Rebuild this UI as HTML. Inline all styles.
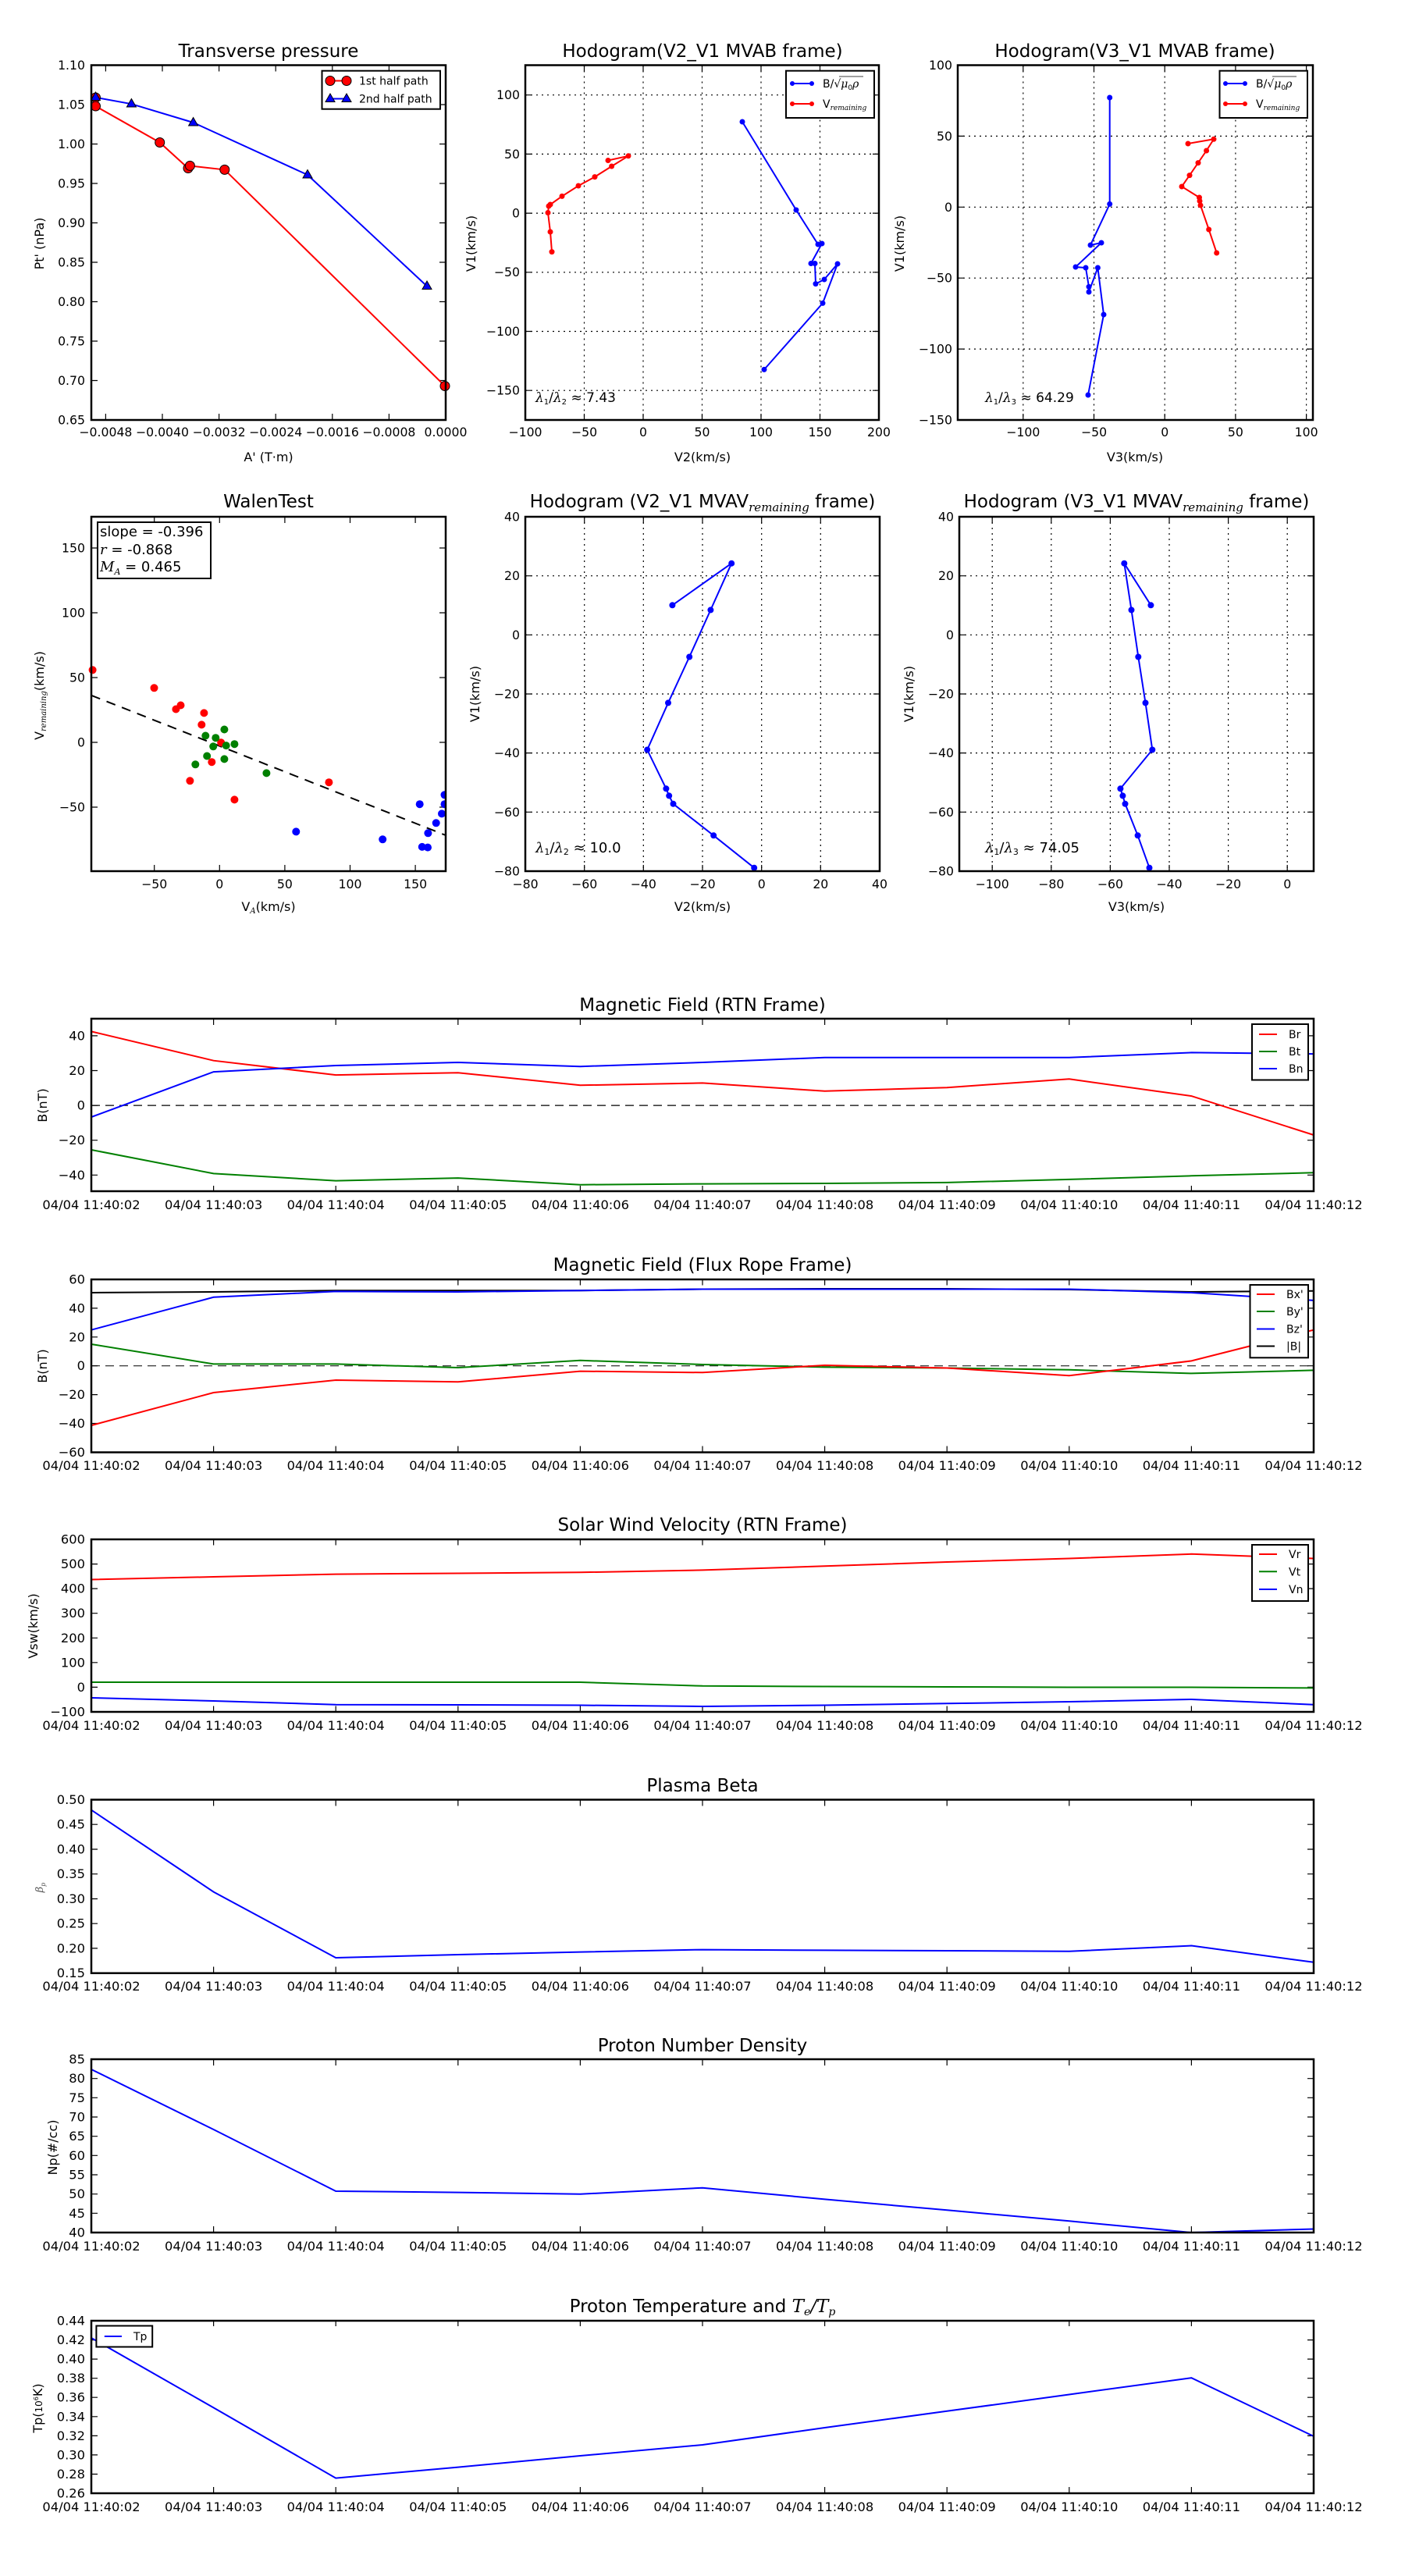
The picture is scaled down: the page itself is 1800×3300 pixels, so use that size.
<!DOCTYPE html>
<html><head><meta charset="utf-8"><style>
html,body{margin:0;padding:0;background:#fff}
svg{display:block}
text{font-family:"DejaVu Sans","Liberation Sans",sans-serif;fill:#000}
.t{font-size:23px;text-anchor:middle}
.k{font-size:15.7px}
.km{font-size:15.7px;text-anchor:middle}
.kr{font-size:15.7px;text-anchor:end}
.d{font-size:16.3px;text-anchor:middle}
.dr{font-size:16.3px;text-anchor:end}
.l{font-size:16px;text-anchor:middle}
.lg{font-size:14px}
.fr{fill:none;stroke:#000;stroke-width:2.5}
.tk{fill:none;stroke:#000;stroke-width:1.2}
.gr{fill:none;stroke:#000;stroke-width:1.2;stroke-dasharray:2,5}
.m{font-family:"DejaVu Serif",serif;font-style:italic}
</style></head><body>
<svg width="1800" height="3300" viewBox="0 0 1800 3300" xmlns="http://www.w3.org/2000/svg">
<defs>
<path id="xt" class="tk" d="M273.6 0v8M430.2 0v8M586.8 0v8M743.4 0v8M900 0v8M1056.6 0v8M1213.2 0v8M1369.8 0v8M1526.4 0v8M273.6 222v-8M430.2 222v-8M586.8 222v-8M743.4 222v-8M900 222v-8M1056.6 222v-8M1213.2 222v-8M1369.8 222v-8M1526.4 222v-8"/>
</defs>

<!-- ===== Panel A: Transverse pressure ===== -->
<text class="t" x="344" y="73">Transverse pressure</text>
<path class="tk" d="M135.4 538v-8M208 538v-8M280.6 538v-8M353.2 538v-8M425.8 538v-8M498.4 538v-8M135.4 83.5v8M208 83.5v8M280.6 83.5v8M353.2 83.5v8M425.8 83.5v8M498.4 83.5v8
M117 134h8M117 184.5h8M117 235h8M117 285.5h8M117 336h8M117 386.5h8M117 437h8M117 487.5h8M571 134h-8M571 184.5h-8M571 235h-8M571 285.5h-8M571 336h-8M571 386.5h-8M571 437h-8M571 487.5h-8"/>
<g class="kr">
<text x="109" y="89">1.10</text><text x="109" y="139.5">1.05</text><text x="109" y="190">1.00</text><text x="109" y="240.5">0.95</text><text x="109" y="291">0.90</text><text x="109" y="341.5">0.85</text><text x="109" y="392">0.80</text><text x="109" y="442.5">0.75</text><text x="109" y="493">0.70</text><text x="109" y="543.5">0.65</text>
</g>
<g class="km">
<text x="135.4" y="559">−0.0048</text><text x="208" y="559">−0.0040</text><text x="280.6" y="559">−0.0032</text><text x="353.2" y="559">−0.0024</text><text x="425.8" y="559">−0.0016</text><text x="498.4" y="559">−0.0008</text><text x="571" y="559">0.0000</text>
</g>
<text class="l" x="344" y="591">A' (T·m)</text>
<text class="l" transform="translate(56,312) rotate(-90)">Pt' (nPa)</text>
<polyline fill="none" stroke="#f00" stroke-width="2" points="122.5,125 122.5,136 204.7,182.5 241,215.5 243.4,212.4 287.8,217.4 570,494.5"/>
<polyline fill="none" stroke="#00f" stroke-width="2" points="122.5,124.8 168.4,133.2 247.6,157 394,224 547,366.6"/>
<g fill="#f00" stroke="#000" stroke-width="1">
<circle cx="122.5" cy="125" r="6"/><circle cx="122.5" cy="136" r="6"/><circle cx="204.7" cy="182.5" r="6"/><circle cx="241" cy="215.5" r="6"/><circle cx="243.4" cy="212.4" r="6"/><circle cx="287.8" cy="217.4" r="6"/><circle cx="570" cy="494.5" r="6"/>
</g>
<g fill="#00f" stroke="#000" stroke-width="1">
<path d="M122.5 118l6 10.5h-12z"/><path d="M168.4 126.5l6 10.5h-12z"/><path d="M247.6 150.5l6 10.5h-12z"/><path d="M394 217.5l6 10.5h-12z"/><path d="M547 360l6 10.5h-12z"/>
</g>
<rect class="fr" x="117" y="83.5" width="454" height="454.5"/>
<rect x="412.5" y="90.7" width="151.5" height="49" fill="#fff" stroke="#000" stroke-width="2"/>
<line x1="423" y1="103.5" x2="444" y2="103.5" stroke="#f00" stroke-width="2"/>
<circle cx="423" cy="103.5" r="6" fill="#f00" stroke="#000"/><circle cx="444" cy="103.5" r="6" fill="#f00" stroke="#000"/>
<line x1="423" y1="126.5" x2="444" y2="126.5" stroke="#00f" stroke-width="2"/>
<path d="M423 120l6 10.5h-12zM444 120l6 10.5h-12z" fill="#00f" stroke="#000"/>
<text class="lg" x="460" y="108.5">1st half path</text>
<text class="lg" x="460" y="131.5">2nd half path</text>

<!-- ===== Panel B: Hodogram V2_V1 MVAB ===== -->
<text class="t" x="900" y="73">Hodogram(V2_V1 MVAB frame)</text>
<path class="gr" d="M748.5 83.5V538M824 83.5V538M899.5 83.5V538M975 83.5V538M1050.5 83.5V538M673 121.7H1126M673 197.4H1126M673 273.1H1126M673 348.8H1126M673 424.5H1126M673 500.2H1126"/>
<g class="kr">
<text x="666" y="127">100</text><text x="666" y="203">50</text><text x="666" y="278.5">0</text><text x="666" y="354">−50</text><text x="666" y="430">−100</text><text x="666" y="505.5">−150</text>
</g>
<g class="km">
<text x="673" y="559">−100</text><text x="748.5" y="559">−50</text><text x="824" y="559">0</text><text x="899.5" y="559">50</text><text x="975" y="559">100</text><text x="1050.5" y="559">150</text><text x="1126" y="559">200</text>
</g>
<text class="l" x="900" y="591">V2(km/s)</text>
<text class="l" transform="translate(609,312) rotate(-90)">V1(km/s)</text>
<polyline fill="none" stroke="#00f" stroke-width="2" points="951,156 1020,269 1048,313 1053,312 1039,337.5 1044,337.5 1045,363.6 1056,358 1073,338 1054,388.4 979,473.4"/>
<g fill="#00f"><circle cx="951" cy="156" r="3.5"/><circle cx="1020" cy="269" r="3.5"/><circle cx="1048" cy="313" r="3.5"/><circle cx="1053" cy="312" r="3.5"/><circle cx="1039" cy="337.5" r="3.5"/><circle cx="1044" cy="337.5" r="3.5"/><circle cx="1045" cy="363.6" r="3.5"/><circle cx="1056" cy="358" r="3.5"/><circle cx="1073" cy="338" r="3.5"/><circle cx="1054" cy="388.4" r="3.5"/><circle cx="979" cy="473.4" r="3.5"/></g>
<polyline fill="none" stroke="#f00" stroke-width="2" points="707,322.6 705,297 702,272.5 703,264 705,262 720,251.4 741,238 762,226.6 783.6,213 805,199.8 779,205.5"/>
<g fill="#f00"><circle cx="707" cy="322.6" r="3.5"/><circle cx="705" cy="297" r="3.5"/><circle cx="702" cy="272.5" r="3.5"/><circle cx="703" cy="264" r="3.5"/><circle cx="705" cy="262" r="3.5"/><circle cx="720" cy="251.4" r="3.5"/><circle cx="741" cy="238" r="3.5"/><circle cx="762" cy="226.6" r="3.5"/><circle cx="783.6" cy="213" r="3.5"/><circle cx="805" cy="199.8" r="3.5"/><circle cx="779" cy="205.5" r="3.5"/></g>
<path class="tk" d="M748.5 538v-8M824 538v-8M899.5 538v-8M975 538v-8M1050.5 538v-8M748.5 83.5v8M824 83.5v8M899.5 83.5v8M975 83.5v8M1050.5 83.5v8M673 121.7h8M673 197.4h8M673 273.1h8M673 348.8h8M673 424.5h8M673 500.2h8M1126 121.7h-8M1126 197.4h-8M1126 273.1h-8M1126 348.8h-8M1126 424.5h-8M1126 500.2h-8"/>
<rect class="fr" x="673" y="83.5" width="453" height="454.5"/>
<rect x="1007" y="90.7" width="113" height="60.3" fill="#fff" stroke="#000" stroke-width="2"/>
<line x1="1015" y1="107" x2="1040" y2="107" stroke="#00f" stroke-width="2"/><circle cx="1015" cy="107" r="3" fill="#00f"/><circle cx="1040" cy="107" r="3" fill="#00f"/>
<line x1="1015" y1="133" x2="1040" y2="133" stroke="#f00" stroke-width="2"/><circle cx="1015" cy="133" r="3" fill="#f00"/><circle cx="1040" cy="133" r="3" fill="#f00"/>
<text class="lg" x="1054" y="112">B/√<tspan class="m">μ</tspan><tspan font-size="9" dy="3">0</tspan><tspan class="m" dy="-3">ρ</tspan></text>
<line x1="1075" y1="98" x2="1106" y2="98" stroke="#000" stroke-width="0.8"/>
<text class="lg" x="1054" y="138">V<tspan class="m" font-size="9" dy="3">remaining</tspan></text>
<text x="686" y="515" font-size="17"><tspan class="m">λ</tspan><tspan font-size="10" dy="3">1</tspan><tspan dy="-3">/</tspan><tspan class="m">λ</tspan><tspan font-size="10" dy="3">2</tspan><tspan dy="-3"> ≈ 7.43</tspan></text>

<!-- ===== Panel C: Hodogram V3_V1 MVAB ===== -->
<text class="t" x="1454" y="73">Hodogram(V3_V1 MVAB frame)</text>
<path class="gr" d="M1310.8 83.5V538M1401.5 83.5V538M1492.2 83.5V538M1582.9 83.5V538M1673.6 83.5V538M1227 174.4H1682M1227 265.3H1682M1227 356.2H1682M1227 447.1H1682"/>
<g class="kr">
<text x="1220" y="89">100</text><text x="1220" y="180">50</text><text x="1220" y="271">0</text><text x="1220" y="361.5">−50</text><text x="1220" y="452.5">−100</text><text x="1220" y="543.5">−150</text>
</g>
<g class="km">
<text x="1310.8" y="559">−100</text><text x="1401.5" y="559">−50</text><text x="1492.2" y="559">0</text><text x="1582.9" y="559">50</text><text x="1673.6" y="559">100</text>
</g>
<text class="l" x="1454" y="591">V3(km/s)</text>
<text class="l" transform="translate(1158,312) rotate(-90)">V1(km/s)</text>
<polyline fill="none" stroke="#00f" stroke-width="2" points="1421.7,125 1421.7,261.4 1397,314 1411,311 1378,342 1391,343 1395,367.4 1395,374 1406.4,343 1414,403 1394,506"/>
<g fill="#00f"><circle cx="1421.7" cy="125" r="3.5"/><circle cx="1421.7" cy="261.4" r="3.5"/><circle cx="1397" cy="314" r="3.5"/><circle cx="1411" cy="311" r="3.5"/><circle cx="1378" cy="342" r="3.5"/><circle cx="1391" cy="343" r="3.5"/><circle cx="1395" cy="367.4" r="3.5"/><circle cx="1395" cy="374" r="3.5"/><circle cx="1406.4" cy="343" r="3.5"/><circle cx="1414" cy="403" r="3.5"/><circle cx="1394" cy="506" r="3.5"/></g>
<polyline fill="none" stroke="#f00" stroke-width="2" points="1558.7,324 1548.7,294 1538,263 1537,257.5 1536.5,253 1514,239 1524,224.6 1535,208.6 1545.6,193 1555,178.3 1522,184"/>
<g fill="#f00"><circle cx="1558.7" cy="324" r="3.5"/><circle cx="1548.7" cy="294" r="3.5"/><circle cx="1538" cy="263" r="3.5"/><circle cx="1537" cy="257.5" r="3.5"/><circle cx="1536.5" cy="253" r="3.5"/><circle cx="1514" cy="239" r="3.5"/><circle cx="1524" cy="224.6" r="3.5"/><circle cx="1535" cy="208.6" r="3.5"/><circle cx="1545.6" cy="193" r="3.5"/><circle cx="1555" cy="178.3" r="3.5"/><circle cx="1522" cy="184" r="3.5"/></g>
<path class="tk" d="M1310.8 538v-8M1401.5 538v-8M1492.2 538v-8M1582.9 538v-8M1673.6 538v-8M1310.8 83.5v8M1401.5 83.5v8M1492.2 83.5v8M1582.9 83.5v8M1673.6 83.5v8M1227 174.4h8M1227 265.3h8M1227 356.2h8M1227 447.1h8M1682 174.4h-8M1682 265.3h-8M1682 356.2h-8M1682 447.1h-8"/>
<rect class="fr" x="1227" y="83.5" width="455" height="454.5"/>
<rect x="1562.5" y="90.7" width="112.5" height="60.3" fill="#fff" stroke="#000" stroke-width="2"/>
<line x1="1570" y1="107" x2="1595" y2="107" stroke="#00f" stroke-width="2"/><circle cx="1570" cy="107" r="3" fill="#00f"/><circle cx="1595" cy="107" r="3" fill="#00f"/>
<line x1="1570" y1="133" x2="1595" y2="133" stroke="#f00" stroke-width="2"/><circle cx="1570" cy="133" r="3" fill="#f00"/><circle cx="1595" cy="133" r="3" fill="#f00"/>
<text class="lg" x="1609" y="112">B/√<tspan class="m">μ</tspan><tspan font-size="9" dy="3">0</tspan><tspan class="m" dy="-3">ρ</tspan></text>
<line x1="1630" y1="98" x2="1661" y2="98" stroke="#000" stroke-width="0.8"/>
<text class="lg" x="1609" y="138">V<tspan class="m" font-size="9" dy="3">remaining</tspan></text>
<text x="1262" y="515" font-size="17"><tspan class="m">λ</tspan><tspan font-size="10" dy="3">1</tspan><tspan dy="-3">/</tspan><tspan class="m">λ</tspan><tspan font-size="10" dy="3">3</tspan><tspan dy="-3"> ≈ 64.29</tspan></text>

<!-- ===== Panel D: WalenTest ===== -->
<text class="t" x="344" y="650">WalenTest</text>
<path class="tk" d="M197.7 1116v-8M281.3 1116v-8M364.9 1116v-8M448.5 1116v-8M532.1 1116v-8M197.7 662v8M281.3 662v8M364.9 662v8M448.5 662v8M532.1 662v8M117 702h8M117 785h8M117 868h8M117 951h8M117 1034h8M571 702h-8M571 785h-8M571 868h-8M571 951h-8M571 1034h-8"/>
<g class="kr">
<text x="109" y="707.5">150</text><text x="109" y="790.5">100</text><text x="109" y="873.5">50</text><text x="109" y="956.5">0</text><text x="109" y="1039.5">−50</text>
</g>
<g class="km">
<text x="197.7" y="1138">−50</text><text x="281.3" y="1138">0</text><text x="364.9" y="1138">50</text><text x="448.5" y="1138">100</text><text x="532.1" y="1138">150</text>
</g>
<text class="l" x="344" y="1167">V<tspan class="m" font-size="10" dy="3">A</tspan><tspan dy="-3">(km/s)</tspan></text>
<text class="l" transform="translate(56,891) rotate(-90)">V<tspan class="m" font-size="10" dy="3">remaining</tspan><tspan dy="-3">(km/s)</tspan></text>
<line x1="117" y1="890.8" x2="571" y2="1070" stroke="#000" stroke-width="2" stroke-dasharray="12,9"/>
<g fill="#f00"><circle cx="118.6" cy="858.3" r="5"/><circle cx="197.5" cy="881.3" r="5"/><circle cx="225.4" cy="908.5" r="5"/><circle cx="231.5" cy="903.5" r="5"/><circle cx="261.4" cy="913.4" r="5"/><circle cx="258.3" cy="928.4" r="5"/><circle cx="283.2" cy="951.3" r="5"/><circle cx="271.3" cy="976.2" r="5"/><circle cx="243.4" cy="1000.3" r="5"/><circle cx="300.4" cy="1024.4" r="5"/><circle cx="421.4" cy="1002.2" r="5"/></g>
<g fill="#008000"><circle cx="263.3" cy="942.5" r="5"/><circle cx="287.4" cy="934.5" r="5"/><circle cx="276.3" cy="945.2" r="5"/><circle cx="273.2" cy="956.3" r="5"/><circle cx="289.7" cy="955.1" r="5"/><circle cx="300.4" cy="953.2" r="5"/><circle cx="265.2" cy="968.5" r="5"/><circle cx="287.4" cy="972.4" r="5"/><circle cx="250.3" cy="979.3" r="5"/><circle cx="341.4" cy="990.4" r="5"/></g>
<g fill="#00f"><circle cx="379.3" cy="1065.4" r="5"/><circle cx="490.2" cy="1075.3" r="5"/><circle cx="537.7" cy="1030.2" r="5"/><circle cx="540.8" cy="1084.9" r="5"/><circle cx="548" cy="1085.6" r="5"/><circle cx="548.4" cy="1067.3" r="5"/><circle cx="558.7" cy="1054.3" r="5"/><circle cx="566" cy="1042.4" r="5"/><circle cx="569.5" cy="1030.2" r="5"/><circle cx="569.5" cy="1018.3" r="5"/></g>
<rect x="117" y="662" width="454" height="454" fill="none" stroke="#fff" stroke-width="0"/>
<path fill="#fff" d="M571 1000h12v40h-12z"/>
<rect class="fr" x="117" y="662" width="454" height="454"/>
<rect x="125" y="669" width="145" height="72" fill="#fff" stroke="#000" stroke-width="2"/>
<text x="128" y="687" font-size="18">slope = -0.396</text>
<text x="128" y="710" font-size="18"><tspan class="m">r</tspan> = -0.868</text>
<text x="128" y="732" font-size="18"><tspan class="m">M</tspan><tspan class="m" font-size="11" dy="4">A</tspan><tspan dy="-4"> = 0.465</tspan></text>

<!-- ===== Panel E ===== -->
<text class="t" x="900" y="650">Hodogram (V2_V1 MVAV<tspan class="m" font-size="15" dy="5">remaining</tspan><tspan dy="-5"> frame)</tspan></text>
<path class="gr" d="M748.7 662V1116M824.3 662V1116M900 662V1116M975.7 662V1116M1051.3 662V1116M673 737.7H1127M673 813.3H1127M673 889H1127M673 964.6H1127M673 1040.3H1127"/>
<g class="kr">
<text x="666" y="667.5">40</text><text x="666" y="743">20</text><text x="666" y="819">0</text><text x="666" y="894.5">−20</text><text x="666" y="970">−40</text><text x="666" y="1046">−60</text><text x="666" y="1121.5">−80</text>
</g>
<g class="km">
<text x="673" y="1138">−80</text><text x="748.7" y="1138">−60</text><text x="824.3" y="1138">−40</text><text x="900" y="1138">−20</text><text x="975.7" y="1138">0</text><text x="1051.3" y="1138">20</text><text x="1127" y="1138">40</text>
</g>
<text class="l" x="900" y="1167">V2(km/s)</text>
<text class="l" transform="translate(614,889) rotate(-90)">V1(km/s)</text>
<polyline fill="none" stroke="#00f" stroke-width="2" points="861.4,775.3 937.2,721.7 910.4,781.4 883.2,841.5 856,900.4 829.2,960.5 853.4,1010.3 857.2,1019.4 862.5,1029.8 914.2,1070.3 966.2,1111.7"/>
<g fill="#00f"><circle cx="861.4" cy="775.3" r="4"/><circle cx="937.2" cy="721.7" r="4"/><circle cx="910.4" cy="781.4" r="4"/><circle cx="883.2" cy="841.5" r="4"/><circle cx="856" cy="900.4" r="4"/><circle cx="829.2" cy="960.5" r="4"/><circle cx="853.4" cy="1010.3" r="4"/><circle cx="857.2" cy="1019.4" r="4"/><circle cx="862.5" cy="1029.8" r="4"/><circle cx="914.2" cy="1070.3" r="4"/><circle cx="966.2" cy="1111.7" r="4"/></g>
<path class="tk" d="M748.7 1116v-8M824.3 1116v-8M900 1116v-8M975.7 1116v-8M1051.3 1116v-8M748.7 662v8M824.3 662v8M900 662v8M975.7 662v8M1051.3 662v8M673 737.7h8M673 813.3h8M673 889h8M673 964.6h8M673 1040.3h8M1127 737.7h-8M1127 813.3h-8M1127 889h-8M1127 964.6h-8M1127 1040.3h-8"/>
<rect class="fr" x="673" y="662" width="454" height="454"/>
<text x="686" y="1092" font-size="18"><tspan class="m">λ</tspan><tspan font-size="11" dy="3">1</tspan><tspan dy="-3">/</tspan><tspan class="m">λ</tspan><tspan font-size="11" dy="3">2</tspan><tspan dy="-3"> ≈ 10.0</tspan></text>

<!-- ===== Panel F ===== -->
<text class="t" x="1456" y="650">Hodogram (V3_V1 MVAV<tspan class="m" font-size="15" dy="5">remaining</tspan><tspan dy="-5"> frame)</tspan></text>
<path class="gr" d="M1271.2 662V1116M1346.8 662V1116M1422.4 662V1116M1498 662V1116M1573.6 662V1116M1649.2 662V1116M1229 737.7H1683M1229 813.3H1683M1229 889H1683M1229 964.6H1683M1229 1040.3H1683"/>
<g class="kr">
<text x="1222" y="667.5">40</text><text x="1222" y="743">20</text><text x="1222" y="819">0</text><text x="1222" y="894.5">−20</text><text x="1222" y="970">−40</text><text x="1222" y="1046">−60</text><text x="1222" y="1121.5">−80</text>
</g>
<g class="km">
<text x="1271.2" y="1138">−100</text><text x="1346.8" y="1138">−80</text><text x="1422.4" y="1138">−60</text><text x="1498" y="1138">−40</text><text x="1573.6" y="1138">−20</text><text x="1649.2" y="1138">0</text>
</g>
<text class="l" x="1456" y="1167">V3(km/s)</text>
<text class="l" transform="translate(1170,889) rotate(-90)">V1(km/s)</text>
<polyline fill="none" stroke="#00f" stroke-width="2" points="1474.4,775.3 1440.3,721.7 1449.5,781.4 1458.3,841.5 1467.5,900.4 1476.3,960.5 1435.4,1010.3 1438.4,1019.4 1441.5,1029.8 1457.6,1070.3 1472.5,1111.7"/>
<g fill="#00f"><circle cx="1474.4" cy="775.3" r="4"/><circle cx="1440.3" cy="721.7" r="4"/><circle cx="1449.5" cy="781.4" r="4"/><circle cx="1458.3" cy="841.5" r="4"/><circle cx="1467.5" cy="900.4" r="4"/><circle cx="1476.3" cy="960.5" r="4"/><circle cx="1435.4" cy="1010.3" r="4"/><circle cx="1438.4" cy="1019.4" r="4"/><circle cx="1441.5" cy="1029.8" r="4"/><circle cx="1457.6" cy="1070.3" r="4"/><circle cx="1472.5" cy="1111.7" r="4"/></g>
<path class="tk" d="M1271.2 1116v-8M1346.8 1116v-8M1422.4 1116v-8M1498 1116v-8M1573.6 1116v-8M1649.2 1116v-8M1271.2 662v8M1346.8 662v8M1422.4 662v8M1498 662v8M1573.6 662v8M1649.2 662v8M1229 737.7h8M1229 813.3h8M1229 889h8M1229 964.6h8M1229 1040.3h8M1683 737.7h-8M1683 813.3h-8M1683 889h-8M1683 964.6h-8M1683 1040.3h-8"/>
<rect class="fr" x="1229" y="662" width="454" height="454"/>
<text x="1262" y="1092" font-size="18"><tspan class="m">λ</tspan><tspan font-size="11" dy="3">1</tspan><tspan dy="-3">/</tspan><tspan class="m">λ</tspan><tspan font-size="11" dy="3">3</tspan><tspan dy="-3"> ≈ 74.05</tspan></text>

<!-- ===== Time series panels ===== -->
<!-- P1 -->
<text class="t" x="900" y="1295">Magnetic Field (RTN Frame)</text>
<use href="#xt" y="1305"/>
<path class="tk" d="M117 1326.9h8M117 1371.5h8M117 1416.1h8M117 1460.7h8M117 1505.3h8M1683 1326.9h-8M1683 1371.5h-8M1683 1416.1h-8M1683 1460.7h-8M1683 1505.3h-8"/>
<line x1="117" y1="1416.1" x2="1683" y2="1416.1" stroke="#000" stroke-width="1.3" stroke-dasharray="11,7"/>
<polyline fill="none" stroke="#f00" stroke-width="2" points="117,1321.4 273.6,1358.7 430.2,1377.1 586.8,1374.2 743.4,1390.3 900,1387.4 1056.6,1397.8 1213.2,1393.2 1369.8,1382.3 1526.4,1404.1 1683,1454"/>
<polyline fill="none" stroke="#008000" stroke-width="2" points="117,1473 273.6,1503.4 430.2,1512.6 586.8,1509.1 743.4,1517.7 900,1516.6 1056.6,1516 1213.2,1514.9 1369.8,1510.9 1526.4,1506.3 1683,1502.3"/>
<polyline fill="none" stroke="#00f" stroke-width="2" points="117,1431 273.6,1373.1 430.2,1365 586.8,1361 743.4,1366.2 900,1361 1056.6,1354.7 1213.2,1354.7 1369.8,1354.7 1526.4,1348.4 1683,1350.1"/>
<rect class="fr" x="117" y="1305" width="1566" height="221"/>
<g class="dr"><text x="109" y="1332.5">40</text><text x="109" y="1377">20</text><text x="109" y="1421.5">0</text><text x="109" y="1466">−20</text><text x="109" y="1511">−40</text></g>
<g class="d"><text x="117" y="1549">04/04 11:40:02</text><text x="273.6" y="1549">04/04 11:40:03</text><text x="430.2" y="1549">04/04 11:40:04</text><text x="586.8" y="1549">04/04 11:40:05</text><text x="743.4" y="1549">04/04 11:40:06</text><text x="900" y="1549">04/04 11:40:07</text><text x="1056.6" y="1549">04/04 11:40:08</text><text x="1213.2" y="1549">04/04 11:40:09</text><text x="1369.8" y="1549">04/04 11:40:10</text><text x="1526.4" y="1549">04/04 11:40:11</text><text x="1683" y="1549">04/04 11:40:12</text></g>
<text class="l" transform="translate(60,1416) rotate(-90)">B(nT)</text>
<rect x="1604" y="1312" width="72" height="71.5" fill="#fff" stroke="#000" stroke-width="2"/>
<path d="M1613 1325h23" stroke="#f00" stroke-width="2"/><path d="M1613 1347h23" stroke="#008000" stroke-width="2"/><path d="M1613 1369h23" stroke="#00f" stroke-width="2"/>
<g class="lg"><text x="1651" y="1330">Br</text><text x="1651" y="1352">Bt</text><text x="1651" y="1374">Bn</text></g>

<!-- P2 -->
<text class="t" x="900" y="1628">Magnetic Field (Flux Rope Frame)</text>
<use href="#xt" y="1638.5"/>
<path class="tk" d="M117 1675.9h8M117 1712.8h8M117 1749.7h8M117 1786.6h8M117 1823.5h8M1683 1675.9h-8M1683 1712.8h-8M1683 1749.7h-8M1683 1786.6h-8M1683 1823.5h-8"/>
<line x1="117" y1="1749.7" x2="1683" y2="1749.7" stroke="#000" stroke-width="1" stroke-dasharray="11,7"/>
<polyline fill="none" stroke="#000" stroke-width="2" points="117,1656 273.6,1655 430.2,1653.2 586.8,1653.2 743.4,1653.2 900,1651.5 1056.6,1651 1213.2,1651 1369.8,1652 1526.4,1655 1683,1653.8"/>
<polyline fill="none" stroke="#00f" stroke-width="2" points="117,1703.7 273.6,1661.8 430.2,1654.4 586.8,1655 743.4,1653.2 900,1651.5 1056.6,1651.5 1213.2,1651.5 1369.8,1651.5 1526.4,1656 1683,1665.9"/>
<polyline fill="none" stroke="#008000" stroke-width="2" points="117,1722 273.6,1747.4 430.2,1747.4 586.8,1752 743.4,1742.8 900,1748 1056.6,1751.4 1213.2,1752.5 1369.8,1754.8 1526.4,1759.4 1683,1755.4"/>
<polyline fill="none" stroke="#f00" stroke-width="2" points="117,1826 273.6,1784 430.2,1768 586.8,1770.3 743.4,1756.6 900,1758.3 1056.6,1749 1213.2,1752.5 1369.8,1762.3 1526.4,1743.4 1683,1703.7"/>
<rect class="fr" x="117" y="1639" width="1566" height="221.5"/>
<g class="dr"><text x="109" y="1644.5">60</text><text x="109" y="1681.5">40</text><text x="109" y="1718.5">20</text><text x="109" y="1755">0</text><text x="109" y="1792">−20</text><text x="109" y="1829">−40</text><text x="109" y="1866">−60</text></g>
<g class="d"><text x="117" y="1883">04/04 11:40:02</text><text x="273.6" y="1883">04/04 11:40:03</text><text x="430.2" y="1883">04/04 11:40:04</text><text x="586.8" y="1883">04/04 11:40:05</text><text x="743.4" y="1883">04/04 11:40:06</text><text x="900" y="1883">04/04 11:40:07</text><text x="1056.6" y="1883">04/04 11:40:08</text><text x="1213.2" y="1883">04/04 11:40:09</text><text x="1369.8" y="1883">04/04 11:40:10</text><text x="1526.4" y="1883">04/04 11:40:11</text><text x="1683" y="1883">04/04 11:40:12</text></g>
<text class="l" transform="translate(60,1750) rotate(-90)">B(nT)</text>
<rect x="1601.5" y="1646" width="74.5" height="93.3" fill="#fff" stroke="#000" stroke-width="2"/>
<path d="M1610 1658h23" stroke="#f00" stroke-width="2"/><path d="M1610 1680h23" stroke="#008000" stroke-width="2"/><path d="M1610 1702.5h23" stroke="#00f" stroke-width="2"/><path d="M1610 1724.5h23" stroke="#000" stroke-width="2"/>
<g class="lg"><text x="1648" y="1663">Bx'</text><text x="1648" y="1685">By'</text><text x="1648" y="1707.5">Bz'</text><text x="1648" y="1729.5">|B|</text></g>

<!-- P3 -->
<text class="t" x="900" y="1961">Solar Wind Velocity (RTN Frame)</text>
<use href="#xt" y="1971.5"/>
<path class="tk" d="M117 2003.6h8M117 2035.1h8M117 2066.7h8M117 2098.3h8M117 2129.8h8M117 2161.4h8M1683 2003.6h-8M1683 2035.1h-8M1683 2066.7h-8M1683 2098.3h-8M1683 2129.8h-8M1683 2161.4h-8"/>
<polyline fill="none" stroke="#f00" stroke-width="2" points="117,2023.5 273.6,2020 430.2,2016.6 586.8,2015.5 743.4,2014.3 900,2011.4 1056.6,2006.3 1213.2,2001 1369.8,1996.5 1526.4,1990.8 1683,1996.5"/>
<polyline fill="none" stroke="#008000" stroke-width="2" points="117,2155 273.6,2155 430.2,2155 586.8,2155 743.4,2155 900,2159.8 1056.6,2160.5 1213.2,2161 1369.8,2161.5 1526.4,2161.5 1683,2162.4"/>
<polyline fill="none" stroke="#00f" stroke-width="2" points="117,2175 273.6,2179 430.2,2183.7 586.8,2184 743.4,2184.5 900,2186 1056.6,2184.5 1213.2,2182.3 1369.8,2180 1526.4,2177 1683,2183.7"/>
<rect class="fr" x="117" y="1972" width="1566" height="221"/>
<g class="dr"><text x="109" y="1977.5">600</text><text x="109" y="2009">500</text><text x="109" y="2040.5">400</text><text x="109" y="2072">300</text><text x="109" y="2104">200</text><text x="109" y="2135.5">100</text><text x="109" y="2167">0</text><text x="109" y="2198.5">−100</text></g>
<g class="d"><text x="117" y="2216">04/04 11:40:02</text><text x="273.6" y="2216">04/04 11:40:03</text><text x="430.2" y="2216">04/04 11:40:04</text><text x="586.8" y="2216">04/04 11:40:05</text><text x="743.4" y="2216">04/04 11:40:06</text><text x="900" y="2216">04/04 11:40:07</text><text x="1056.6" y="2216">04/04 11:40:08</text><text x="1213.2" y="2216">04/04 11:40:09</text><text x="1369.8" y="2216">04/04 11:40:10</text><text x="1526.4" y="2216">04/04 11:40:11</text><text x="1683" y="2216">04/04 11:40:12</text></g>
<text class="l" transform="translate(48,2083) rotate(-90)">Vsw(km/s)</text>
<rect x="1604" y="1979" width="72" height="72" fill="#fff" stroke="#000" stroke-width="2"/>
<path d="M1613 1991h23" stroke="#f00" stroke-width="2"/><path d="M1613 2013.3h23" stroke="#008000" stroke-width="2"/><path d="M1613 2036h23" stroke="#00f" stroke-width="2"/>
<g class="lg"><text x="1651" y="1996">Vr</text><text x="1651" y="2018.3">Vt</text><text x="1651" y="2041">Vn</text></g>

<!-- P4 -->
<text class="t" x="900" y="2295">Plasma Beta</text>
<use href="#xt" y="2305.5"/>
<path class="tk" d="M117 2337.2h8M117 2369h8M117 2400.7h8M117 2432.5h8M117 2464.2h8M117 2495.9h8M1683 2337.2h-8M1683 2369h-8M1683 2400.7h-8M1683 2432.5h-8M1683 2464.2h-8M1683 2495.9h-8"/>
<polyline fill="none" stroke="#00f" stroke-width="2" points="117,2318.7 273.6,2423.6 430.2,2508 586.8,2504 743.4,2500.6 900,2497.6 1056.6,2498.4 1213.2,2499 1369.8,2499.8 1526.4,2492.5 1683,2513.8"/>
<rect class="fr" x="117" y="2305.5" width="1566" height="222.2"/>
<g class="dr"><text x="109" y="2311">0.50</text><text x="109" y="2342.7">0.45</text><text x="109" y="2374.5">0.40</text><text x="109" y="2406.2">0.35</text><text x="109" y="2438">0.30</text><text x="109" y="2469.7">0.25</text><text x="109" y="2501.4">0.20</text><text x="109" y="2533.2">0.15</text></g>
<g class="d"><text x="117" y="2550">04/04 11:40:02</text><text x="273.6" y="2550">04/04 11:40:03</text><text x="430.2" y="2550">04/04 11:40:04</text><text x="586.8" y="2550">04/04 11:40:05</text><text x="743.4" y="2550">04/04 11:40:06</text><text x="900" y="2550">04/04 11:40:07</text><text x="1056.6" y="2550">04/04 11:40:08</text><text x="1213.2" y="2550">04/04 11:40:09</text><text x="1369.8" y="2550">04/04 11:40:10</text><text x="1526.4" y="2550">04/04 11:40:11</text><text x="1683" y="2550">04/04 11:40:12</text></g>
<text transform="translate(55,2418) rotate(-90)" font-size="13" text-anchor="middle" fill="#555" style="fill:#555"><tspan class="m">β</tspan><tspan class="m" font-size="8" dy="3">p</tspan></text>

<!-- P5 -->
<text class="t" x="900" y="2628">Proton Number Density</text>
<use href="#xt" y="2638"/>
<path class="tk" d="M117 2662.7h8M117 2687.3h8M117 2712h8M117 2736.7h8M117 2761.3h8M117 2786h8M117 2810.7h8M117 2835.3h8M1683 2662.7h-8M1683 2687.3h-8M1683 2712h-8M1683 2736.7h-8M1683 2761.3h-8M1683 2786h-8M1683 2810.7h-8M1683 2835.3h-8"/>
<polyline fill="none" stroke="#00f" stroke-width="2" points="117,2651 273.6,2728 430.2,2807 586.8,2808.6 743.4,2810.8 900,2802.7 1056.6,2817.4 1213.2,2831.3 1369.8,2845.3 1526.4,2860 1683,2855.5"/>
<rect class="fr" x="117" y="2638" width="1566" height="222"/>
<g class="dr"><text x="109" y="2643.5">85</text><text x="109" y="2668.2">80</text><text x="109" y="2692.8">75</text><text x="109" y="2717.5">70</text><text x="109" y="2742.2">65</text><text x="109" y="2766.8">60</text><text x="109" y="2791.5">55</text><text x="109" y="2816.2">50</text><text x="109" y="2840.8">45</text><text x="109" y="2865.5">40</text></g>
<g class="d"><text x="117" y="2883">04/04 11:40:02</text><text x="273.6" y="2883">04/04 11:40:03</text><text x="430.2" y="2883">04/04 11:40:04</text><text x="586.8" y="2883">04/04 11:40:05</text><text x="743.4" y="2883">04/04 11:40:06</text><text x="900" y="2883">04/04 11:40:07</text><text x="1056.6" y="2883">04/04 11:40:08</text><text x="1213.2" y="2883">04/04 11:40:09</text><text x="1369.8" y="2883">04/04 11:40:10</text><text x="1526.4" y="2883">04/04 11:40:11</text><text x="1683" y="2883">04/04 11:40:12</text></g>
<text class="l" transform="translate(73,2751) rotate(-90)">Np(#/cc)</text>

<!-- P6 -->
<text class="t" x="900" y="2962">Proton Temperature and <tspan class="m">T</tspan><tspan class="m" font-size="14" dy="4">e</tspan><tspan class="m" dy="-4">/T</tspan><tspan class="m" font-size="14" dy="4">p</tspan></text>
<use href="#xt" y="2972"/>
<path class="tk" d="M117 2997.6h8M117 3022.1h8M117 3046.7h8M117 3071.2h8M117 3095.8h8M117 3120.4h8M117 3144.9h8M117 3169.5h8M1683 2997.6h-8M1683 3022.1h-8M1683 3046.7h-8M1683 3071.2h-8M1683 3095.8h-8M1683 3120.4h-8M1683 3144.9h-8M1683 3169.5h-8"/>
<polyline fill="none" stroke="#00f" stroke-width="2" points="117,2995 273.6,3084.4 430.2,3174.6 586.8,3160.6 743.4,3146 900,3132 1056.6,3110 1213.2,3088.8 1369.8,3067.5 1526.4,3046.2 1683,3121"/>
<rect class="fr" x="117" y="2973" width="1566" height="221"/>
<g class="dr"><text x="109" y="2978.5">0.44</text><text x="109" y="3003.1">0.42</text><text x="109" y="3027.6">0.40</text><text x="109" y="3052.2">0.38</text><text x="109" y="3076.7">0.36</text><text x="109" y="3101.3">0.34</text><text x="109" y="3125.9">0.32</text><text x="109" y="3150.4">0.30</text><text x="109" y="3175">0.28</text><text x="109" y="3199.5">0.26</text></g>
<g class="d"><text x="117" y="3217">04/04 11:40:02</text><text x="273.6" y="3217">04/04 11:40:03</text><text x="430.2" y="3217">04/04 11:40:04</text><text x="586.8" y="3217">04/04 11:40:05</text><text x="743.4" y="3217">04/04 11:40:06</text><text x="900" y="3217">04/04 11:40:07</text><text x="1056.6" y="3217">04/04 11:40:08</text><text x="1213.2" y="3217">04/04 11:40:09</text><text x="1369.8" y="3217">04/04 11:40:10</text><text x="1526.4" y="3217">04/04 11:40:11</text><text x="1683" y="3217">04/04 11:40:12</text></g>
<text class="l" transform="translate(54,3085) rotate(-90)">Tp(<tspan font-size="12">10</tspan><tspan font-size="8" dy="-5">6</tspan><tspan dy="5">K)</tspan></text>
<rect x="123.4" y="2979.5" width="71.8" height="27" fill="#fff" stroke="#000" stroke-width="2"/>
<path d="M133.8 2993h22.2" stroke="#00f" stroke-width="2"/>
<text class="lg" x="171" y="2998">Tp</text>
</svg>
</body></html>
